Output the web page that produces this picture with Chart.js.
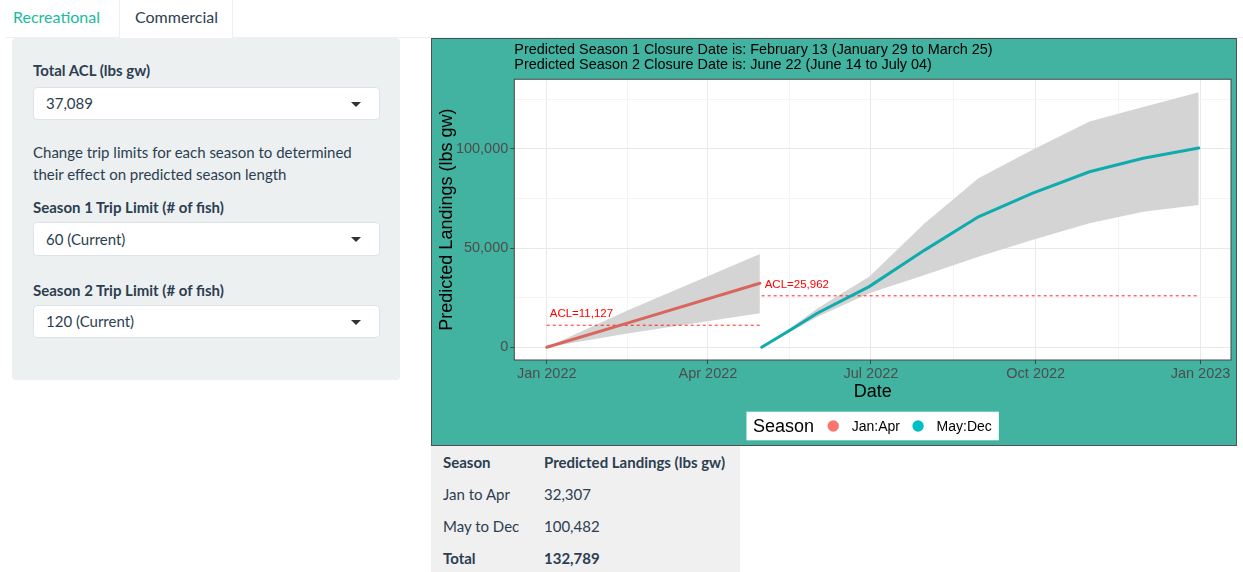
<!DOCTYPE html>
<html>
<head>
<meta charset="utf-8">
<title>Predicted Landings</title>
<script src="https://cdn.jsdelivr.net/npm/chart.js@4.4.1/dist/chart.umd.min.js"></script>
<style>
  body { margin: 0; width: 1243px; height: 572px; overflow: hidden; position: relative;
         font-family: Lato, sans-serif; font-size: 15px; color: #2c3e50; background: #fff; }
  .tabbar { position: absolute; left: 6px; top: 0; width: 1237px; height: 37px; border-bottom: 1px solid #ecf0f1; }
  .tab { position: absolute; top: 0; height: 38px; line-height: 34px; font-size: 16px; }
  .tab.rec { left: 13px; color: #18bc9c; }
  .tab.com { left: 119px; width: 114px; border-left: 1px solid #ecf0f1; border-right: 1px solid #ecf0f1;
             background: #fff; text-indent: 15px; box-sizing: border-box; }
  .sidebar { position: absolute; left: 12px; top: 38px; width: 388px; height: 342px; background: #ecf0f1; border-radius: 4px; }
  .lbl { position: absolute; left: 33px; font-weight: bold; line-height: 20px; }
  .sel { position: absolute; left: 33px; background: #fff; border: 1px solid #dde3e8;
         border-radius: 4px; padding-left: 12px; box-sizing: border-box; width: 347px; }
  .sel::after { content: ''; position: absolute; right: 18px; top: 50%; margin-top: -2px;
                border-left: 5px solid transparent; border-right: 5px solid transparent; border-top: 5px solid #333; }
  .help { position: absolute; left: 33px; top: 141px; width: 335px; line-height: 22px; }
  .panel { position: absolute; left: 431px; top: 38px; width: 806px; height: 408px; box-sizing: border-box;
           border: 1px solid #505050; background: #42b3a0; }
  .panel canvas { display: block; }
  table.res { position: absolute; left: 431px; top: 446px; width: 309px; height: 126px; background: #f0f0f0;
              border-collapse: collapse; }
  table.res td { padding: 0 12px; height: 32px; white-space: nowrap; }
  table.res td:first-child { width: 77px; }
  table.res .b td { font-weight: bold; }
</style>
</head>
<body>
<div class="tabbar"></div>
<div class="tab rec">Recreational</div>
<div class="tab com">Commercial</div>

<div class="sidebar"></div>
<div class="lbl" style="top:60px">Total ACL (lbs gw)</div>
<div class="sel" style="top:87px;height:33px;line-height:31px">37,089</div>
<div class="help">Change trip limits for each season to determined their effect on predicted season length</div>
<div class="lbl" style="top:197px">Season 1 Trip Limit (# of fish)</div>
<div class="sel" style="top:222px;height:34px;line-height:32px">60 (Current)</div>
<div class="lbl" style="top:280px">Season 2 Trip Limit (# of fish)</div>
<div class="sel" style="top:305px;height:33px;line-height:31px">120 (Current)</div>

<div class="panel"><canvas id="landingsChart" width="804" height="406"></canvas></div>
<table class="res" id="resTable"></table>

<script>
// chart data (dates are days of 2022)
const xTickDates = ['2022-01-01', '2022-04-01', '2022-07-01', '2022-10-01', '2023-01-01'];
const xTickLabels = ['Jan 2022', 'Apr 2022', 'Jul 2022', 'Oct 2022', 'Jan 2023'];
const yTicks = [0, 50000, 100000];

const seasonNames = ['Jan:Apr', 'May:Dec'];
const tableNames = ['Jan to Apr', 'May to Dec'];

const s1Dates = ['2022-01-01', '2022-02-15', '2022-04-30'];
const s1Landings = [0, 12200, 32307];
const s1Upper = [0, 18500, 47050];
const s1Lower = [0, 6900, 17140];

const s2Dates = ['2022-05-01', '2022-05-17', '2022-06-01', '2022-06-30', '2022-07-31',
                 '2022-08-30', '2022-09-29', '2022-10-31', '2022-11-30', '2022-12-31'];
const s2Landings = [0, 8700, 17200, 30600, 49000, 65800, 77600, 88500, 95300, 100482];
const s2Upper = [0, 9700, 19600, 35600, 62500, 85200, 99500, 113800, 121100, 128600];
const s2Lower = [0, 7800, 15300, 27200, 36500, 45700, 54100, 62500, 68400, 71760];

const acl1 = 11127;
const acl2 = 25962;

const titleLines = [
    'Predicted Season 1 Closure Date is: February 13 (January 29 to March 25)',
    'Predicted Season 2 Closure Date is: June 22 (June 14 to July 04)'
];

const lineColors = ['#d9665c', '#10abad'];
const dotColors = ['#F8766D', '#00BFC4'];

// helpers
const day0 = Date.UTC(2022, 0, 1);
function toDay(s) {
    const p = s.split('-');
    return (Date.UTC(+p[0], +p[1] - 1, +p[2]) - day0) / 86400000;
}
function pts(dates, vals) {
    return dates.map((d, i) => ({ x: toDay(d), y: vals[i] }));
}
const fmt = v => v.toLocaleString('en-US');

const xMajor = xTickDates.map(toDay);
const xMinor = [];
for (let i = 1; i < xMajor.length; i++) xMinor.push((xMajor[i - 1] + xMajor[i]) / 2);
const yMinor = [];
for (let i = 0; i < yTicks.length; i++) yMinor.push(yTicks[i] + (yTicks[1] - yTicks[0]) / 2);

const axisFont = { family: 'Arial', size: 14.5 };
const titleFont = { family: 'Arial', size: 18 };

function gridOpts() {
    return {
        color: c => c.tick && c.tick.major ? '#e9e9e9' : '#f4f4f4',
        lineWidth: 1,
        tickColor: c => c.tick && c.tick.major ? '#444' : 'rgba(0,0,0,0)',
        tickLength: 4
    };
}

// white panel, border, ACL labels and the legend row
const panelPlugin = {
    id: 'panel',
    beforeDraw(chart) {
        const a = chart.chartArea, ctx = chart.ctx;
        ctx.save();
        ctx.fillStyle = '#fff';
        ctx.fillRect(a.left, a.top, a.right - a.left, a.bottom - a.top);
        ctx.restore();
    },
    afterDatasetsDraw(chart) {
        const a = chart.chartArea, ctx = chart.ctx;
        ctx.save();
        ctx.font = '11.5px Arial';
        ctx.fillStyle = '#ff0000';
        ctx.textBaseline = 'alphabetic';
        chart.data.datasets.forEach((ds, i) => {
            if (!ds.aclLabel) return;
            const p = chart.getDatasetMeta(i).data[0];
            ctx.fillText(ds.aclLabel, p.x + 3, p.y - 8);
        });
        ctx.strokeStyle = '#444';
        ctx.lineWidth = 1;
        ctx.strokeRect(a.left, a.top, a.right - a.left, a.bottom - a.top);
        ctx.restore();
    },
    afterDraw(chart) {
        const a = chart.chartArea, ctx = chart.ctx;
        ctx.save();
        ctx.font = '18px Arial';
        const wTitle = ctx.measureText('Season').width;
        ctx.font = '14px Arial';
        const wLab = seasonNames.map(s => ctx.measureText(s).width);
        const r = 5.7;
        const w = 6.5 + wTitle + 13.5 + (2 * r + 12.8) * 2 + wLab[0] + 12.4 + wLab[1] + 7;
        let x = (a.left + a.right) / 2 - w / 2;
        const top = 372.7, h = 28.6, cy = top + h / 2;
        ctx.fillStyle = '#fff';
        ctx.fillRect(x, top, w, h);
        ctx.fillStyle = '#000';
        ctx.textBaseline = 'middle';
        ctx.font = '18px Arial';
        x += 6.5;
        ctx.fillText('Season', x, cy + 1);
        x += wTitle + 13.5;
        ctx.font = '14px Arial';
        seasonNames.forEach((s, i) => {
            ctx.fillStyle = dotColors[i];
            ctx.beginPath();
            ctx.arc(x + r, cy, r, 0, Math.PI * 2);
            ctx.fill();
            x += 2 * r + 12.8;
            ctx.fillStyle = '#000';
            ctx.fillText(s, x, cy + 1);
            x += wLab[i] + 12.4;
        });
        ctx.restore();
    }
};

const ribbon = (dates, vals, fill) => ({
    data: pts(dates, vals),
    borderColor: 'rgba(0,0,0,0)',
    borderWidth: 0,
    backgroundColor: '#d4d4d4',
    pointRadius: 0,
    fill: fill,
    order: 3
});

const aclLine = (dates, acl) => ({
    data: [{ x: toDay(dates[0]), y: acl }, { x: toDay(dates[dates.length - 1]), y: acl }],
    borderColor: 'rgba(255,0,0,0.85)',
    borderWidth: 1,
    borderDash: [3, 3],
    pointRadius: 0,
    fill: false,
    aclLabel: 'ACL=' + fmt(acl),
    order: 2
});

const seasonLine = (dates, vals, color, name) => ({
    label: name,
    data: pts(dates, vals),
    borderColor: color,
    borderWidth: 3,
    borderCapStyle: 'round',
    pointRadius: 0,
    fill: false,
    order: 1
});

const ctx = document.getElementById('landingsChart');
new Chart(ctx, {
    type: 'line',
    data: {
        datasets: [
            ribbon(s1Dates, s1Upper, '+1'),
            ribbon(s1Dates, s1Lower, false),
            ribbon(s2Dates, s2Upper, '+1'),
            ribbon(s2Dates, s2Lower, false),
            aclLine(s1Dates, acl1),
            aclLine(s2Dates, acl2),
            seasonLine(s1Dates, s1Landings, lineColors[0], seasonNames[0]),
            seasonLine(s2Dates, s2Landings, lineColors[1], seasonNames[1])
        ]
    },
    options: {
        responsive: false,
        devicePixelRatio: 1,
        animation: false,
        events: [],
        layout: { padding: { left: 0, right: 5, top: 0, bottom: 38.5 } },
        elements: { line: { tension: 0 } },
        plugins: {
            legend: { display: false },
            tooltip: { enabled: false },
            title: {
                display: true,
                text: titleLines,
                align: 'start',
                fullSize: false,
                color: '#000',
                font: { family: 'Arial', size: 14.4, weight: 'normal', lineHeight: 1.05 },
                padding: { top: 3.4, bottom: 6.6 }
            }
        },
        scales: {
            x: {
                type: 'linear',
                min: -18.1,
                max: 382.0,
                afterBuildTicks: axis => {
                    axis.ticks = xMajor.map(v => ({ value: v, major: true }))
                        .concat(xMinor.map(v => ({ value: v, major: false })));
                },
                ticks: {
                    autoSkip: false,
                    maxRotation: 0,
                    padding: 1,
                    color: '#4d4d4d',
                    font: axisFont,
                    callback: function(value) {
                        const i = xMajor.indexOf(value);
                        return i >= 0 ? xTickLabels[i] : '';
                    }
                },
                grid: gridOpts(),
                border: { display: false },
                title: { display: true, text: 'Date', color: '#000', font: titleFont, padding: { top: 0, bottom: 4 } },
                afterFit: s => { s.height = 46.5; }
            },
            y: {
                min: -6400,
                max: 135150,
                afterBuildTicks: axis => {
                    axis.ticks = yTicks.map(v => ({ value: v, major: true }))
                        .concat(yMinor.map(v => ({ value: v, major: false })));
                },
                ticks: {
                    padding: 2,
                    color: '#4d4d4d',
                    font: axisFont,
                    callback: function(value) {
                        return yTicks.includes(value) ? fmt(value) : '';
                    }
                },
                grid: gridOpts(),
                border: { display: false },
                title: { display: true, text: 'Predicted Landings (lbs gw)', color: '#000', font: titleFont, padding: { top: 4 } },
                afterFit: s => { s.width = 82.3; }
            }
        }
    },
    plugins: [panelPlugin]
});

// results table
const s1Total = s1Landings[s1Landings.length - 1];
const s2Total = s2Landings[s2Landings.length - 1];
const rows = [
    ['Season', 'Predicted Landings (lbs gw)', true],
    [tableNames[0], fmt(s1Total), false],
    [tableNames[1], fmt(s2Total), false],
    ['Total', fmt(s1Total + s2Total), true]
];
document.getElementById('resTable').innerHTML = rows.map(r =>
    '<tr' + (r[2] ? ' class="b"' : '') + '><td>' + r[0] + '</td><td>' + r[1] + '</td></tr>').join('');
</script>
</body>
</html>
